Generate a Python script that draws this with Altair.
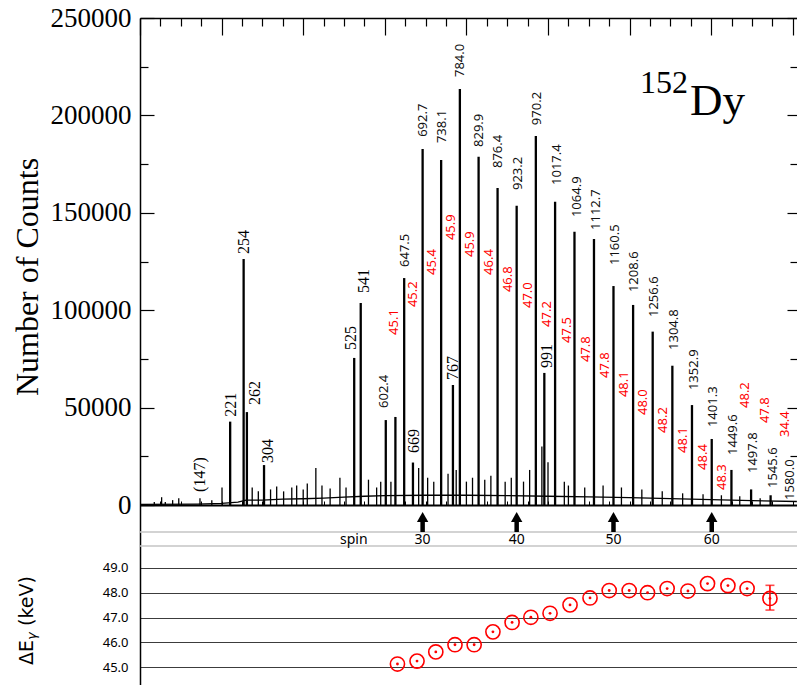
import altair as alt
import pandas as pd

# ---------------- data ----------------
# main gamma-ray peaks: energy (keV) and peak height (counts)
peak_energy = [221, 254, 262, 304, 525, 541, 602.4, 626, 647.5, 669, 692.7, 738.1, 767,
               784.0, 829.9, 876.4, 923.2, 970.2, 991, 1017.4, 1064.9, 1112.7, 1160.5,
               1208.6, 1256.6, 1304.8, 1352.9, 1401.3, 1449.6, 1497.8, 1545.6]
peak_counts = [42800, 126300, 47700, 20500, 75500, 103700, 43600, 45200, 116500, 21800,
               182700, 177100, 61600, 213500, 178800, 162700, 153600, 189400, 67800, 155700,
               140300, 136600, 112400, 102700, 89000, 71500, 51300, 33900, 18000, 8000, 5000]

# small peaks of the spectrum
minor_energy = [35, 53, 62, 80, 95, 147, 176, 201, 275, 290, 320, 335, 352, 372, 384, 400,
                410, 431, 446, 466, 490, 505, 560, 580, 590, 615, 683, 705, 720, 755, 775,
                800, 815, 845, 860, 895, 910, 940, 955, 985, 1000, 1040, 1050, 1090, 1135,
                1180, 1230, 1280, 1330, 1380, 1425, 1470, 1520]
minor_counts = [1500, 4000, 1500, 2500, 3500, 3500, 2500, 9000, 9000, 7000, 8000, 9500, 7000,
                9000, 10000, 8000, 11000, 19000, 10000, 8500, 14000, 9000, 13000, 9000, 12000,
                12000, 19000, 14000, 12000, 16000, 18000, 12000, 14000, 13000, 15000, 12000,
                14000, 12000, 18000, 30000, 22000, 12000, 10000, 9000, 10000, 9000, 8000,
                7000, 6000, 5500, 5000, 4500, 3500]

# continuum under the peaks
bg_energy = [0, 140, 200, 240, 260, 300, 350, 400, 450, 500, 550, 600, 700, 800, 900,
             1000, 1100, 1200, 1300, 1400, 1500, 1610]
bg_counts = [300, 500, 800, 1500, 2500, 2500, 3000, 3200, 3500, 4000, 4500, 4800, 5000,
             5000, 4800, 4500, 4200, 3800, 3300, 2800, 2200, 1800]

# black peak labels (serif group)
serif_labels = ["(147)", "221", "254", "262", "304", "525", "541", "669", "767", "991"]
serif_label_energy = [147, 222, 255, 282, 313, 516, 549, 672, 767, 998]
serif_label_counts = [6700, 45300, 128900, 51300, 21600, 79600, 108800, 26700, 64200, 70300]

# black peak labels (sans group)
sans_labels = ["602.4", "647.5", "692.7", "738.1", "784.0", "829.9", "876.4", "923.2",
               "970.2", "1017.4", "1064.9", "1112.7", "1160.5", "1208.6", "1256.6",
               "1304.8", "1352.9", "1401.3", "1449.6", "1497.8", "1545.6", "1580.0"]
sans_label_energy = [599, 650, 694, 740, 784, 831, 877, 926, 973, 1022, 1071, 1118, 1164,
                     1211, 1260, 1309, 1358, 1404, 1453, 1502, 1551, 1593]
sans_label_counts = [49800, 122200, 189000, 185800, 219700, 183800, 173000, 161700, 195000,
                     164300, 147800, 141200, 123200, 109300, 96500, 79600, 59000, 40000,
                     25700, 16400, 8700, 2600]

# red energy-difference labels
red_labels = ["45.1", "45.2", "45.4", "45.9", "45.9", "46.4", "46.8", "47.0", "47.2", "47.5",
              "47.8", "47.8", "48.1", "48.0", "48.2", "48.1", "48.4", "48.3", "48.2", "47.8",
              "34.4"]
red_label_energy = [623, 669, 716, 762, 809, 855, 902, 951, 998, 1047, 1093, 1140, 1186,
                    1233, 1282, 1331, 1380, 1426, 1483, 1532, 1581]
red_label_counts = [87300, 101600, 118100, 136000, 127300, 118100, 109300, 101100, 91400,
                    83200, 73400, 65200, 55400, 46200, 37000, 26700, 18000, 7700, 49800,
                    42100, 34900]

# spin markers
spin_energy = [692.7, 923.2, 1160.5, 1401.3]
spin_labels = ["30", "40", "50", "60"]
spin_word_energy = [524]

# lower panel: Delta E_gamma
dE_energy = [631, 679, 725, 772, 819, 865, 912, 958, 1005, 1054, 1103, 1150, 1199, 1244,
             1292, 1343, 1391, 1441, 1488, 1544]
dE_value = [45.12, 45.24, 45.61, 45.9, 45.9, 46.42, 46.8, 47.01, 47.17, 47.51, 47.79, 48.09,
            48.09, 48.0, 48.17, 48.07, 48.37, 48.29, 48.17, 47.77]
err_energy = [1544]
err_low = [47.3]
err_high = [48.3]

count_ticks_major = [0, 50000, 100000, 150000, 200000, 250000]
count_ticks_minor = [25000, 75000, 125000, 175000, 225000]
dE_ticks = [45, 46, 47, 48, 49]
energy_major = list(range(0, 1601, 200))
energy_minor = [v for v in range(50, 1601, 50) if v % 200]
energy_all = list(range(0, 1601, 50))

# ---------------- layout ----------------
W, H = 657, 667
BASE = 487          # pixel row of zero counts inside the plot
xs = alt.Scale(domain=[0, 1610.3], nice=False, zero=False)
cs = alt.Scale(domain=[-92400, 250000], nice=False, zero=False)
ds = alt.Scale(domain=[44.273, 71.22], nice=False, zero=False)

def ax(**kw):
    base = dict(title=None, labels=False, domain=False, grid=False, tickColor="black")
    base.update(kw)
    return alt.Axis(**base)

ax_top_major = ax(orient="bottom", offset=-H, values=energy_major, tickSize=17,
                  tickWidth=1.2, domain=True, domainColor="black", domainWidth=1.5)
ax_top_minor = ax(orient="bottom", offset=-H, values=energy_minor, tickSize=8, tickWidth=1.2)
ax_base = ax(orient="top", offset=-BASE, values=energy_all, tickSize=4, tickWidth=1,
             domain=True, domainColor="black", domainWidth=2)
ax_counts = alt.Axis(orient="left", values=count_ticks_major, format="d", title=None,
                     labelFont="Liberation Serif", labelFontSize=27, labelColor="black",
                     labelPadding=9, labelOverlap=False, ticks=False, grid=False,
                     domain=True, domainColor="black", domainWidth=1.5)
ax_lt_major = ax(orient="right", offset=-W, values=count_ticks_major, tickSize=14, tickWidth=1.2)
ax_lt_minor = ax(orient="right", offset=-W, values=count_ticks_minor, tickSize=8, tickWidth=1.2)
ax_rt_major = ax(orient="left", offset=-W, values=count_ticks_major[1:], tickSize=10, tickWidth=1.2)
ax_rt_minor = ax(orient="left", offset=-W, values=count_ticks_minor, tickSize=7, tickWidth=1.2)
ax_de = alt.Axis(orient="left", values=dE_ticks, format=".1f", title=None, grid=True,
                 gridColor="#3c3c3c", gridWidth=1, ticks=False, domain=False,
                 labelFont="Noto Sans", labelFontSize=13, labelColor="black",
                 labelPadding=12, labelOverlap=False)

X = lambda axis=None: alt.X("E:Q", scale=xs, axis=axis)

bg_df = pd.DataFrame({"E": bg_energy, "C": bg_counts})
pk_df = pd.DataFrame({"E": peak_energy, "C": peak_counts, "Z": [0] * len(peak_energy)})
mn_df = pd.DataFrame({"E": minor_energy, "C": minor_counts, "Z": [0] * len(minor_energy)})
ser_df = pd.DataFrame({"E": serif_label_energy, "C": serif_label_counts, "T": serif_labels})
san_df = pd.DataFrame({"E": sans_label_energy, "C": sans_label_counts, "T": sans_labels})
red_df = pd.DataFrame({"E": red_label_energy, "C": red_label_counts, "T": red_labels})
spin_df = pd.DataFrame({"E": spin_energy, "T": spin_labels})
spinw_df = pd.DataFrame({"E": spin_word_energy, "T": ["spin"]})
de_df = pd.DataFrame({"E": dE_energy, "D": dE_value})
err_df = pd.DataFrame({"E": err_energy, "lo": err_low, "hi": err_high})
cap_df = pd.DataFrame({"E": err_energy * 2, "D": err_low + err_high})

L_bg = alt.Chart(bg_df).mark_line(color="black", strokeWidth=1.3).encode(
    x=X(ax_top_major), y=alt.Y("C:Q", scale=cs, axis=ax_counts))
L_mn = alt.Chart(mn_df).mark_rule(color="black", strokeWidth=1.3).encode(
    x=X(ax_base), y=alt.Y("C:Q", scale=cs, axis=ax_lt_minor), y2="Z:Q")
L_pk = alt.Chart(pk_df).mark_rule(color="black", strokeWidth=2.3).encode(
    x=X(ax_top_minor), y=alt.Y("C:Q", scale=cs, axis=ax_lt_major), y2="Z:Q")

txt = dict(angle=270, align="left", baseline="middle")
L_ser = alt.Chart(ser_df).mark_text(font="Liberation Serif", fontSize=16, color="black", **txt).encode(
    x=X(), y=alt.Y("C:Q", scale=cs, axis=ax_rt_major), text="T:N")
L_san = alt.Chart(san_df).mark_text(font="Noto Sans", fontSize=13, color="#111111", **txt).encode(
    x=X(), y=alt.Y("C:Q", scale=cs, axis=ax_rt_minor), text="T:N")
L_red = alt.Chart(red_df).mark_text(font="Noto Sans", fontSize=13, color="#ff0000", **txt).encode(
    x=X(), y=alt.Y("C:Q", scale=cs, axis=None), text="T:N")

# spin row
L_row1 = alt.Chart(spinw_df).mark_rule(color="#c4c4c4", strokeWidth=1.3).encode(
    x=alt.value(0), x2=alt.value(W), y=alt.value(514))
L_row2 = alt.Chart(spinw_df).mark_rule(color="#c4c4c4", strokeWidth=1.3).encode(
    x=alt.value(0), x2=alt.value(W), y=alt.value(528))
L_shaft = alt.Chart(spin_df).mark_rule(color="black", strokeWidth=4.5).encode(
    x=X(), y=alt.value(503), y2=alt.value(514))
L_head = alt.Chart(spin_df).mark_point(shape="triangle-up", filled=True, size=130,
                                       color="black", opacity=1).encode(
    x=X(), y=alt.value(499))
L_spin = alt.Chart(spin_df).mark_text(font="Noto Sans", fontSize=14, color="black",
                                      baseline="middle").encode(
    x=X(), y=alt.value(522), text="T:N")
L_spinw = alt.Chart(spinw_df).mark_text(font="Noto Sans", fontSize=14, color="black",
                                        baseline="middle").encode(
    x=X(), y=alt.value(522), text="T:N")

# lower panel
L_circ = alt.Chart(de_df).mark_point(shape="circle", filled=False, color="#ff0000", size=200,
                                     strokeWidth=1.6, opacity=1).encode(
    x=X(), y=alt.Y("D:Q", scale=ds, axis=ax_de))
L_dot = alt.Chart(de_df).mark_point(shape="circle", filled=True, color="#ff0000", size=8,
                                    opacity=1).encode(
    x=X(), y=alt.Y("D:Q", scale=ds, axis=None))
L_err = alt.Chart(err_df).mark_rule(color="#ff0000", strokeWidth=1.6).encode(
    x=X(), y=alt.Y("lo:Q", scale=ds, axis=None), y2="hi:Q")
L_cap = alt.Chart(cap_df).mark_tick(color="#ff0000", orient="horizontal", size=9,
                                    thickness=1.6).encode(
    x=X(), y=alt.Y("D:Q", scale=ds, axis=None))

# titles and nucleus label
def label(text, x, y, **kw):
    return alt.Chart(pd.DataFrame({"T": [text]})).mark_text(**kw).encode(
        x=alt.value(x), y=alt.value(y), text="T:N")

L_ytitle = label("Number of Counts", -112, 259, angle=270, align="center", baseline="middle",
                 font="Liberation Serif", fontSize=32, color="black")
L_dt1 = label("ΔE", -113, 647, angle=270, align="left", baseline="middle",
              font="DejaVu Sans", fontSize=19, color="black")
L_dt2 = label("γ", -108, 622, angle=270, align="left", baseline="middle",
              font="DejaVu Sans", fontSize=13, color="black", fontStyle="italic")
L_dt3 = label("(keV)", -113, 608, angle=270, align="left", baseline="middle",
              font="DejaVu Sans", fontSize=19, color="black")
L_mass = label("152", 500, 75, align="left", baseline="alphabetic",
               font="Liberation Serif", fontSize=32, color="black")
L_elem = label("Dy", 550, 97, align="left", baseline="alphabetic",
               font="Liberation Serif", fontSize=45, color="black")

chart = alt.layer(
    L_bg, L_mn, L_pk, L_ser, L_san, L_red,
    L_row1, L_row2, L_shaft, L_head, L_spin, L_spinw,
    L_circ, L_dot, L_err, L_cap,
    L_ytitle, L_dt1, L_dt2, L_dt3, L_mass, L_elem,
).resolve_scale(y="independent").resolve_axis(x="independent", y="independent").properties(
    width=W, height=H,
    padding={"left": 140, "top": 18, "right": 0, "bottom": 0},
    autosize=alt.AutoSizeParams(type="none"),
    background="white",
).configure_view(stroke=None)

chart.save("out.html", embed_options={"renderer": "svg", "actions": False})
